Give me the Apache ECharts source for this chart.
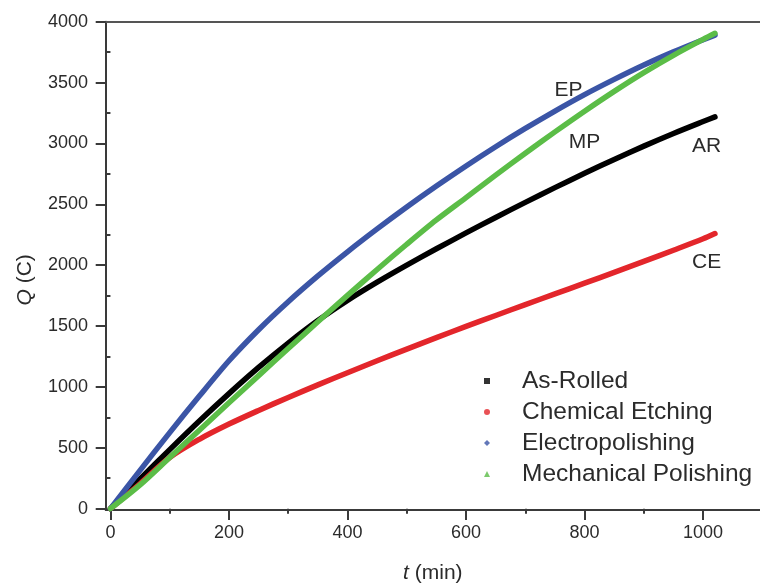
<!DOCTYPE html>
<html>
<head>
<meta charset="utf-8">
<title>Charge vs time</title>
<script src="https://cdn.jsdelivr.net/npm/echarts@6/dist/echarts.min.js"></script>
<style>
  html, body { margin: 0; padding: 0; background: #fff; }
  #chart { width: 760px; height: 585px; }
</style>
</head>
<body>
<div id="chart"></div>
<script>
// Sampling times (min)
const times = [0, 50, 100, 150, 200, 250, 300, 350, 400, 450, 500, 550, 600, 650, 700, 750, 800, 850, 900, 950, 1000, 1020];

// Accumulated charge Q (C) for each surface treatment
const asRolled = [0, 245, 485, 720, 945, 1160, 1360, 1545, 1710, 1860, 2000, 2135, 2265, 2392, 2516, 2637, 2755, 2869, 2978, 3082, 3180, 3218];
const chemEtching = [0, 205, 420, 570, 695, 807, 914, 1017, 1117, 1215, 1311, 1405, 1497, 1587, 1676, 1764, 1852, 1941, 2031, 2123, 2217, 2260];
const electroPolish = [0, 315, 625, 925, 1215, 1470, 1700, 1912, 2110, 2298, 2478, 2650, 2815, 2973, 3123, 3266, 3401, 3526, 3644, 3752, 3852, 3890];
const mechPolish = [0, 195, 420, 645, 870, 1093, 1315, 1535, 1752, 1965, 2172, 2372, 2555, 2740, 2920, 3095, 3265, 3428, 3582, 3724, 3855, 3905];

// Axis ticks
const xLabelTicks = [0, 200, 400, 600, 800, 1000];
const xMinorTicks = [100, 300, 500, 700, 900];
const yLabelTicks = [0, 500, 1000, 1500, 2000, 2500, 3000, 3500, 4000];
const yMinorTicks = [250, 750, 1250, 1750, 2250, 2750, 3250, 3750];

// Legend names and curve tags
const seriesNames = ['As-Rolled', 'Chemical Etching', 'Electropolishing', 'Mechanical Polishing'];
const curveTags = ['AR', 'CE', 'EP', 'MP'];
const tagPositions = [[1006, 2978], [1006, 2025], [773, 3438], [800, 3011]];

const FONT = '"Liberation Sans", Arial, Helvetica, sans-serif';
const AXIS_COLOR = '#3a3a3a';
const TEXT_COLOR = '#2b2b2b';
const colors = ['#000000', '#e3262b', '#3b55a6', '#5bbd47'];
const icons = ['rect', 'circle', 'diamond', 'triangle'];
const seriesData = [asRolled, chemEtching, electroPolish, mechPolish];

const X_MIN = -8, X_MAX = 1096;
const Y_MIN = -10, Y_MAX = 4000;

function pairs(ys) {
  return times.map((t, i) => [t, ys[i]]);
}
const plain = (v) => String(v);

const chart = echarts.init(document.getElementById('chart'), null, { renderer: 'canvas' });

const option = {
  animation: false,
  backgroundColor: '#ffffff',
  textStyle: { fontFamily: FONT },
  grid: { left: 105.7, top: 21.7, right: 0, height: 488.2, containLabel: false, outerBoundsMode: 'none' },
  legend: {
    orient: 'vertical',
    left: 484,
    top: 368.5,
    padding: 0,
    itemWidth: 6,
    itemHeight: 6,
    itemGap: 6,
    selectedMode: false,
    data: seriesNames.map((n, i) => ({ name: n, icon: icons[i], itemStyle: { color: colors[i], opacity: 0.8 } })),
    textStyle: {
      fontFamily: FONT,
      fontSize: 24.5,
      lineHeight: 25,
      color: TEXT_COLOR,
      padding: [0, 0, 0, 27]
    }
  },
  xAxis: [
    {
      type: 'value',
      min: X_MIN,
      max: X_MAX,
      position: 'bottom',
      name: '{i|t} (min)',
      nameLocation: 'middle',
      nameGap: 53,
      nameTextStyle: {
        fontFamily: FONT, fontSize: 21, color: TEXT_COLOR,
        rich: { i: { fontFamily: FONT, fontSize: 21, fontStyle: 'italic', color: TEXT_COLOR } }
      },
      axisLine: { show: true, onZero: false, lineStyle: { color: AXIS_COLOR, width: 2 } },
      axisTick: { show: true, inside: false, length: 10, customValues: xLabelTicks, lineStyle: { color: AXIS_COLOR, width: 2 } },
      axisLabel: { show: true, customValues: xLabelTicks, formatter: plain, margin: 14, fontFamily: FONT, fontSize: 18, color: TEXT_COLOR },
      splitLine: { show: false }
    },
    {
      type: 'value',
      min: X_MIN,
      max: X_MAX,
      position: 'bottom',
      axisLine: { show: false },
      axisTick: { show: true, inside: false, length: 5, customValues: xMinorTicks, lineStyle: { color: AXIS_COLOR, width: 2 } },
      axisLabel: { show: false },
      splitLine: { show: false }
    },
    {
      // top frame line
      type: 'value',
      min: X_MIN,
      max: X_MAX,
      position: 'top',
      axisLine: { show: true, onZero: false, lineStyle: { color: '#555', width: 2 } },
      axisTick: { show: false },
      axisLabel: { show: false },
      splitLine: { show: false }
    }
  ],
  yAxis: [
    {
      type: 'value',
      min: Y_MIN,
      max: Y_MAX,
      position: 'left',
      name: '{i|Q} (C)',
      nameLocation: 'middle',
      nameRotate: 90,
      nameGap: 70,
      nameTextStyle: {
        fontFamily: FONT, fontSize: 21, color: TEXT_COLOR, padding: [0, 28, 0, 0],
        rich: { i: { fontFamily: FONT, fontSize: 21, fontStyle: 'italic', color: TEXT_COLOR } }
      },
      axisLine: { show: true, onZero: false, lineStyle: { color: AXIS_COLOR, width: 2 } },
      axisTick: { show: true, inside: false, length: 10, customValues: yLabelTicks, lineStyle: { color: AXIS_COLOR, width: 2 } },
      axisLabel: { show: true, customValues: yLabelTicks, formatter: plain, margin: 17.7, fontFamily: FONT, fontSize: 18, color: TEXT_COLOR },
      splitLine: { show: false }
    },
    {
      type: 'value',
      min: Y_MIN,
      max: Y_MAX,
      position: 'left',
      axisLine: { show: false },
      axisTick: { show: true, inside: false, length: 5, customValues: yMinorTicks, lineStyle: { color: AXIS_COLOR, width: 2 } },
      axisLabel: { show: false },
      splitLine: { show: false }
    }
  ],
  series: seriesNames.map((name, i) => ({
    name: name,
    type: 'line',
    xAxisIndex: 0,
    yAxisIndex: 0,
    data: pairs(seriesData[i]),
    smooth: 0.3,
    showSymbol: false,
    symbol: 'none',
    z: 2 + i,
    lineStyle: { color: colors[i], width: 5.5, cap: 'round', join: 'round' },
    itemStyle: { color: colors[i] },
    markPoint: {
      silent: true,
      symbol: 'circle',
      symbolSize: 0,
      data: [{ name: curveTags[i], coord: tagPositions[i] }],
      label: {
        show: true,
        position: 'inside',
        formatter: '{b}',
        fontFamily: FONT,
        fontSize: 21,
        color: TEXT_COLOR
      }
    }
  }))
};

chart.setOption(option);
</script>
</body>
</html>
